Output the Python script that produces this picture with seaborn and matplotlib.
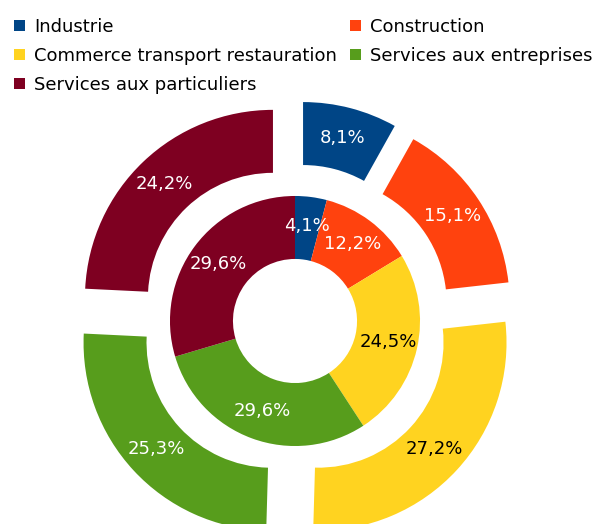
import numpy as np
import matplotlib
matplotlib.use("Agg")
import matplotlib.pyplot as plt
import seaborn as sns
from matplotlib.patches import Patch

sns.set_theme(style="white")
plt.rcParams['font.family'] = ['DejaVu Sans']

categories = ["Industrie", "Construction", "Commerce transport restauration",
              "Services aux entreprises", "Services aux particuliers"]
outer_pct = [8.1, 15.1, 27.2, 25.3, 24.2]
inner_pct = [4.1, 12.2, 24.5, 29.6, 29.6]

colors = sns.color_palette(["#004586", "#ff420e", "#ffd320", "#579d1c", "#7e0021"])
text_colors = ["white", "white", "black", "white", "white"]

def fmt(p):
    return f"{p:.1f}%".replace(".", ",")

fig = plt.figure(figsize=(6.01, 5.24), dpi=100)
ax = fig.add_axes([0, 0, 1, 1])

# outer ring, each segment pulled out
_, _, outer_txt = ax.pie(outer_pct, radius=1.0, explode=[0.17] * 5, startangle=90,
                         counterclock=False, colors=colors, autopct=fmt,
                         pctdistance=0.835,
                         wedgeprops=dict(width=0.335, edgecolor="none"),
                         textprops=dict(fontsize=13))
# inner ring
_, _, inner_txt = ax.pie(inner_pct, radius=0.665, startangle=90,
                         counterclock=False, colors=colors, autopct=fmt,
                         pctdistance=0.765,
                         wedgeprops=dict(width=0.335, edgecolor="none"),
                         textprops=dict(fontsize=13))

for t, c in zip(outer_txt, text_colors):
    t.set_color(c)
for t, c in zip(inner_txt, text_colors):
    t.set_color(c)

scale = 188.0
ax.set_xlim(-295 / scale, 306 / scale)
ax.set_ylim(-203 / scale, 321 / scale)
ax.set_aspect("auto")
ax.axis("off")

# legend: two columns, filled column by column
order = [0, 2, 4, 1, 3]
handles = [Patch(facecolor=colors[i], edgecolor="none") for i in order]
labels = [categories[i] for i in order]
leg = fig.legend(handles, labels, ncol=2, loc="upper left",
                 bbox_to_anchor=(14 / 601, 1 - 18 / 524), frameon=False,
                 fontsize=13, handlelength=0.6, handleheight=0.6,
                 handletextpad=0.5, labelspacing=0.6, columnspacing=0.75,
                 borderpad=0, borderaxespad=0)
for t in leg.get_texts():
    t.set_color("black")

fig.savefig("out.png", dpi=100)
